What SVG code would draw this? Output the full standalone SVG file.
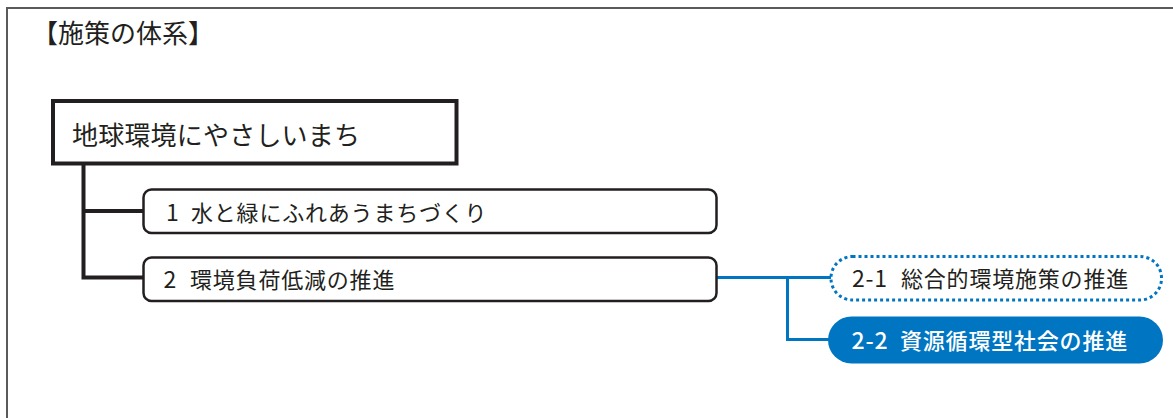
<svg xmlns="http://www.w3.org/2000/svg" width="1173" height="418" viewBox="0 0 1173 418">
<style>
text{font-family:"Noto Sans CJK JP","Noto Sans",sans-serif;fill:#231f20}
.blk{fill:#fff;stroke:#231f20}
.bl{fill:none;stroke:#0075c2;stroke-width:3}
.k{fill:none;stroke:#231f20;stroke-width:4}
.s{font-size:22px;letter-spacing:0.8px}
.d{font-size:23px}
</style>
<rect width="1173" height="418" fill="#fff"/>
<path d="M7,418 V8 H1173" fill="none" stroke="#5a5a5a" stroke-width="2"/>
<text x="32" y="43" font-size="26">【施策の体系】</text>
<g id="connectors">
<path class="k" d="M83.5,163 V277.5 H144 M83.5,211 H144"/>
<path class="bl" d="M717,277.5 H831 M787.5,277.5 V339.5 H830"/>
</g>
<g id="root">
<rect class="blk" x="53" y="101" width="403.5" height="62.5" stroke-width="4"/>
<text x="72" y="145" font-size="26" letter-spacing="0.2">地球環境にやさしいまち</text>
</g>
<g id="n1">
<rect class="blk" x="143.5" y="189.5" width="573" height="43.5" rx="8" stroke-width="2.5"/>
<text y="220.5" class="s"><tspan x="166" class="d">1</tspan><tspan x="191">水と緑にふれあうまちづくり</tspan></text>
</g>
<g id="n2">
<rect class="blk" x="143.5" y="257.5" width="573" height="43.5" rx="8" stroke-width="2.5"/>
<text y="288" class="s"><tspan x="163.5" class="d">2</tspan><tspan x="190">環境負荷低減の推進</tspan></text>
</g>
<g id="n21">
<rect x="831" y="256.5" width="330.5" height="43.5" rx="21.5" fill="#fff" stroke="#0075c2" stroke-width="3" stroke-dasharray="3 3"/>
<text y="286.5" class="s"><tspan x="852" class="d">2-1</tspan><tspan x="901">総合的環境施策の推進</tspan></text>
</g>
<g id="n22">
<rect x="828" y="316.5" width="335" height="47" rx="23.5" fill="#0075c2"/>
<text y="348.5" class="s" font-weight="500" style="fill:#fff"><tspan x="851.5" class="d">2-2</tspan><tspan x="900">資源循環型社会の推進</tspan></text>
</g>
</svg>
